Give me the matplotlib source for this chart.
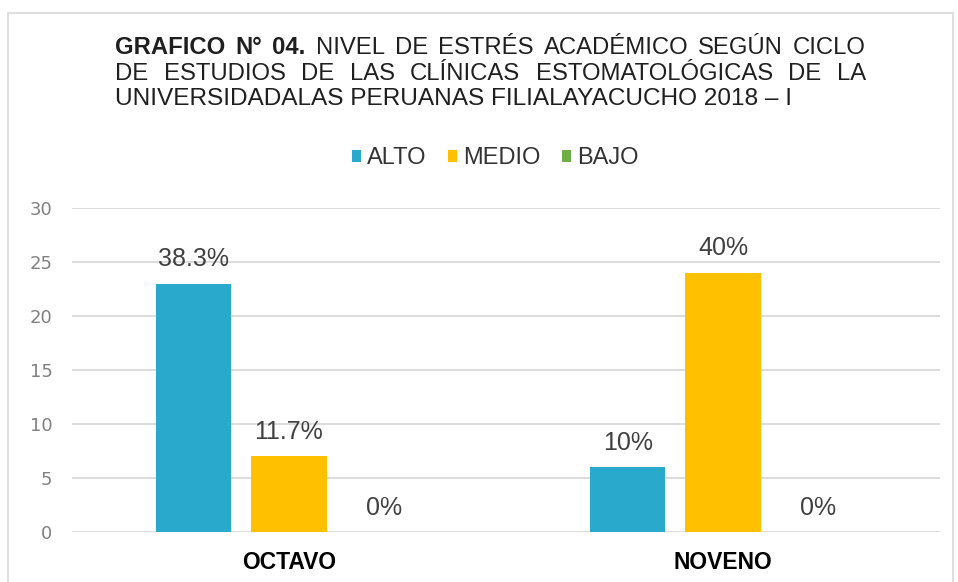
import matplotlib
matplotlib.use("Agg")
import matplotlib.pyplot as plt
import numpy as np
from matplotlib.patches import Patch, Rectangle

categories = ["OCTAVO", "NOVENO"]
series_names = ["ALTO", "MEDIO", "BAJO"]
alto = [23, 6]
medio = [7, 24]
bajo = [0, 0]
alto_labels = ["38.3%", "10%"]
medio_labels = ["11.7%", "40%"]
bajo_labels = ["0%", "0%"]
yticks = [0, 5, 10, 15, 20, 25, 30]

title_lines = [
    ["GRAFICO", "N°", "04.", "NIVEL", "DE", "ESTRÉS", "ACADÉMICO", "SEGÚN", "CICLO"],
    ["DE", "ESTUDIOS", "DE", "LAS", "CLÍNICAS", "ESTOMATOLÓGICAS", "DE", "LA"],
]
title_bold = {"GRAFICO", "N°", "04."}
title_last = "UNIVERSIDADALAS PERUANAS FILIALAYACUCHO 2018 – I"

colors = ["#29AACC", "#FFC000", "#70AD47"]

W, H = 958, 582
fig = plt.figure(figsize=(W / 100, H / 100), dpi=100)
fig.patch.set_facecolor("white")
plt.rcParams["font.family"] = ["Liberation Sans", "DejaVu Sans"]

# outer border
fig.patches.append(Rectangle((8 / W, -0.05), (953 - 8) / W, 1.05 - 13 / H,
                             transform=fig.transFigure, fill=False,
                             edgecolor="#D9D9D9", lw=1.2))

ax = fig.add_axes([72 / W, 1 - 532 / H, 868 / W, (532 - 208) / H])
x = np.arange(len(categories))
w = 0.173
off = 0.219
all_series = [(alto, alto_labels), (medio, medio_labels), (bajo, bajo_labels)]
for i, (vals, labs) in enumerate(all_series):
    xs = x + (i - 1) * off
    ax.bar(xs, vals, width=w, color=colors[i], zorder=3, label=series_names[i])
    for xi, v, lab in zip(xs, vals, labs):
        ax.annotate(lab, (xi, v), xytext=(0, 12.5), textcoords="offset points",
                    ha="center", va="baseline", fontsize=18, color="#404040")

ax.set_xlim(-0.5, 1.5)
ax.set_ylim(0, 30)
ax.set_yticks(yticks)
ax.set_yticklabels([str(t) for t in yticks], fontsize=13, color="#808080",
                   family="DejaVu Sans")
ax.set_xticks(x)
ax.set_xticklabels(categories, fontsize=16.5, fontweight="bold", color="#000000")
ax.tick_params(axis="y", length=0, pad=14)
ax.tick_params(axis="x", length=0, pad=13.5)
ax.grid(axis="y", color="#D9D9D9", lw=1.3, zorder=0)
for s in ax.spines.values():
    s.set_visible(False)

# legend
handles = [Patch(facecolor=c, edgecolor="none") for c in colors]
fig.legend(handles, series_names, loc="center", bbox_to_anchor=(495 / W, 1 - 158 / H),
           ncol=3, frameon=False, fontsize=17, handlelength=0.4, handleheight=0.4,
           handletextpad=0.25, columnspacing=0.9, labelcolor="#333333")

# justified title
fig.canvas.draw()
renderer = fig.canvas.get_renderer()
x_left, x_right = 115, 866
line_y = [48, 73.5]
fs_title = 17.2
for words, yc in zip(title_lines, line_y):
    texts = []
    widths = []
    for wd in words:
        t = fig.text(0, 1 - yc / H, wd, fontsize=fs_title, va="center", ha="left",
                     fontweight="bold" if wd in title_bold else "normal", color="#1F1F1F")
        bb = t.get_window_extent(renderer)
        texts.append(t)
        widths.append(bb.width)
    gap = (x_right - x_left - sum(widths)) / (len(words) - 1)
    cx = x_left
    for t, wdt in zip(texts, widths):
        t.set_x(cx / W)
        cx += wdt + gap

t3 = fig.text(x_left / W, 1 - 99 / H, title_last, fontsize=fs_title, va="center",
              ha="left", color="#1F1F1F")
bb = t3.get_window_extent(renderer)
target = 793 - x_left
t3.set_fontsize(fs_title * target / bb.width)

fig.savefig("out.png", dpi=100)
